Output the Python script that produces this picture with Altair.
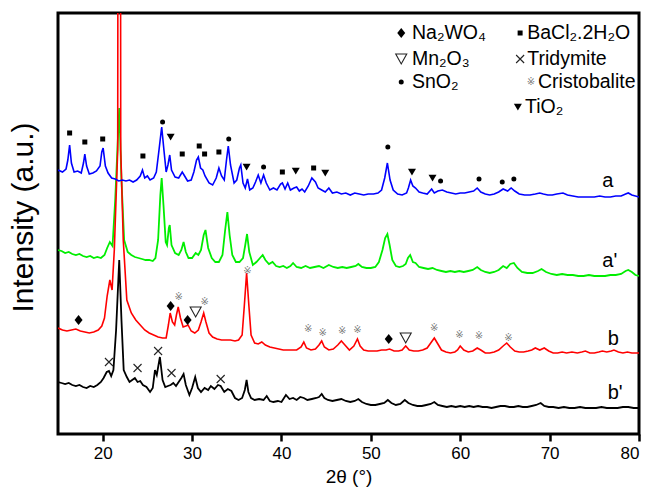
import altair as alt
import pandas as pd

# ---------------------------------------------------------------------------
# XRD patterns: 2θ (degrees) and stacked intensity (a.u., offsets included)
# ---------------------------------------------------------------------------
a_2theta = [15.0, 15.5, 15.9, 16.1, 16.3, 16.5, 16.8, 17.2, 17.6, 17.85, 18.0, 18.2, 18.5, 18.9,
            19.3, 19.7, 19.9, 20.05, 20.3, 20.6, 21.0, 21.4, 21.8, 22.2, 22.6, 23.0, 23.4, 23.8,
            24.2, 24.45, 24.7, 25.0, 25.3, 25.7, 26.0, 26.3, 26.6, 26.85, 27.1, 27.3, 27.5, 27.7,
            28.1, 28.5, 28.9, 29.1, 29.5, 29.9, 30.2, 30.5, 30.7, 30.95, 31.2, 31.45, 31.9, 32.3,
            32.7, 33.0, 33.3, 33.6, 33.85, 34.05, 34.3, 34.7, 35.0, 35.3, 35.45, 35.7, 35.95, 36.2,
            36.45, 36.8, 37.1, 37.4, 37.7, 38.0, 38.3, 38.7, 39.1, 39.5, 39.9, 40.1, 40.4, 40.7,
            41.0, 41.4, 41.7, 42.0, 42.3, 42.6, 43.0, 43.4, 43.8, 44.1, 44.5, 44.9, 45.3, 45.7,
            46.2, 46.7, 47.2, 47.7, 48.2, 48.7, 49.2, 49.7, 50.3, 50.8, 51.2, 51.55, 51.85, 52.15,
            52.5, 53.0, 53.5, 54.0, 54.2, 54.45, 54.7, 55.0, 55.4, 55.8, 56.3, 56.8, 57.1, 57.5,
            58.0, 58.5, 59.0, 59.5, 60.0, 60.5, 61.0, 61.5, 61.9, 62.3, 62.8, 63.3, 63.8, 64.3,
            64.8, 65.3, 65.7, 66.1, 66.6, 67.2, 67.8, 68.4, 68.9, 69.3, 69.8, 70.3, 70.8, 71.5,
            72.0, 72.6, 73.2, 73.8, 74.4, 75.0, 75.6, 76.2, 76.8, 77.4, 78.0, 78.5, 78.8, 79.2,
            79.6, 80.0]
a_int = [264, 262, 265, 274, 289, 271, 262, 263, 261, 271, 280, 268, 260, 261,
         263, 268, 282, 286, 268, 261, 256, 255, 253, 254, 253, 254, 252, 254,
         258, 264, 256, 258, 254, 256, 262, 284, 307, 284, 262, 269, 279, 264,
         257, 256, 262, 259, 253, 254, 262, 274, 277, 266, 264, 258, 251, 249,
         256, 266, 258, 254, 274, 288, 269, 251, 254, 266, 269, 251, 246, 255,
         244, 246, 252, 259, 251, 259, 251, 244, 246, 244, 250, 251, 245, 251,
         244, 246, 247, 243, 245, 242, 248, 256, 252, 246, 244, 242, 246, 241,
         242, 240, 241, 239, 241, 240, 239, 240, 240, 241, 244, 256, 271, 254,
         244, 240, 239, 241, 246, 254, 248, 246, 242, 241, 240, 245, 241, 243,
         244, 242, 241, 240, 241, 241, 242, 243, 246, 242, 240, 239, 240, 242,
         245, 243, 246, 243, 240, 239, 239, 240, 241, 240, 239, 239, 240, 241,
         239, 238, 237, 237, 237, 237, 238, 237, 237, 238, 238, 240, 241, 239,
         238, 237]

ap_2theta = [15.0, 15.4, 15.8, 16.2, 16.6, 17.0, 17.4, 17.8, 18.2, 18.6, 19.0, 19.4, 19.8, 20.2,
             20.5, 20.8, 21.1, 21.4, 21.85, 22.1, 22.4, 22.8, 23.2, 23.6, 24.0, 24.4, 24.8, 25.2,
             25.6, 25.9, 26.2, 26.45, 26.6, 26.8, 27.05, 27.2, 27.4, 27.5, 27.7, 28.1, 28.5, 28.8,
             29.05, 29.3, 29.6, 30.0, 30.4, 30.7, 31.0, 31.3, 31.5, 31.8, 32.2, 32.6, 33.0, 33.4,
             33.7, 33.95, 34.2, 34.5, 34.9, 35.3, 35.7, 35.95, 36.15, 36.4, 36.8, 37.2, 37.6, 37.9,
             38.2, 38.6, 39.0, 39.4, 39.8, 40.2, 40.6, 41.0, 41.3, 41.7, 42.2, 42.7, 43.2, 43.7,
             44.2, 44.7, 45.3, 45.8, 46.3, 46.8, 47.3, 47.8, 48.3, 48.6, 49.0, 49.5, 50.0, 50.5,
             50.9, 51.3, 51.6, 51.85, 52.1, 52.4, 52.8, 53.2, 53.6, 53.9, 54.15, 54.4, 54.7, 55.0,
             55.4, 55.9, 56.4, 56.9, 57.4, 57.9, 58.4, 58.9, 59.4, 59.9, 60.4, 60.9, 61.4, 61.9,
             62.3, 62.8, 63.3, 63.8, 64.3, 64.8, 65.2, 65.6, 66.0, 66.4, 66.9, 67.5, 68.1, 68.7,
             69.1, 69.6, 70.2, 70.8, 71.4, 72.0, 72.6, 73.2, 73.8, 74.4, 75.0, 75.6, 76.2, 76.8,
             77.4, 78.0, 78.5, 78.8, 79.2, 79.6, 80.0]
ap_int = [184, 183, 181, 182, 180, 179, 180, 178, 177, 178, 176, 177, 176, 179,
          186, 192, 188, 234, 326, 254, 194, 182, 179, 177, 176, 175, 174, 174,
          173, 176, 194, 239, 256, 229, 192, 189, 206, 209, 189, 181, 179, 184,
          192, 182, 176, 176, 181, 179, 184, 199, 204, 186, 176, 172, 172, 179,
          204, 222, 199, 179, 172, 172, 176, 189, 200, 182, 169, 172, 176, 179,
          174, 170, 172, 168, 167, 168, 166, 168, 171, 167, 166, 168, 166, 167,
          168, 166, 169, 167, 166, 167, 166, 167, 168, 170, 167, 166, 166, 167,
          172, 184, 196, 200, 189, 174, 168, 167, 168, 170, 176, 179, 172, 171,
          167, 166, 165, 166, 164, 163, 162, 163, 162, 163, 162, 163, 164, 167,
          164, 162, 161, 162, 164, 168, 166, 170, 171, 166, 162, 161, 161, 163,
          165, 162, 160, 159, 160, 159, 159, 158, 158, 159, 158, 158, 158, 159,
          159, 160, 163, 164, 162, 159, 158]

b_2theta = [15.0, 15.5, 16.0, 16.5, 17.0, 17.5, 18.0, 18.5, 19.0, 19.5, 19.9, 20.2, 20.5, 20.8,
            21.05, 21.3, 21.68, 21.85, 22.02, 22.3, 22.7, 23.2, 23.7, 24.2, 24.7, 25.2, 25.7, 26.2,
            26.7, 27.1, 27.35, 27.55, 27.8, 28.05, 28.25, 28.45, 28.7, 29.0, 29.3, 29.55, 29.9, 30.3,
            30.7, 31.0, 31.3, 31.55, 31.9, 32.3, 32.8, 33.3, 33.8, 34.3, 34.8, 35.2, 35.6, 35.85,
            36.1, 36.35, 36.6, 37.0, 37.4, 37.8, 38.2, 38.7, 39.2, 39.7, 40.2, 40.7, 41.2, 41.7,
            42.2, 42.5, 42.8, 43.3, 43.8, 44.2, 44.5, 44.8, 45.3, 45.8, 46.3, 46.7, 47.1, 47.6,
            48.1, 48.5, 48.8, 49.2, 49.7, 50.2, 50.7, 51.2, 51.7, 52.1, 52.6, 53.1, 53.5, 53.9,
            54.3, 54.8, 55.3, 55.8, 56.3, 56.7, 57.1, 57.5, 57.9, 58.4, 58.9, 59.4, 59.7, 60.0,
            60.4, 60.9, 61.4, 61.9, 62.3, 62.8, 63.3, 63.8, 64.3, 64.8, 65.2, 65.6, 66.1, 66.6,
            67.1, 67.6, 68.0, 68.4, 68.9, 69.4, 69.9, 70.4, 70.9, 71.4, 71.9, 72.5, 73.1, 73.6,
            74.0, 74.5, 75.0, 75.5, 75.9, 76.4, 76.9, 77.2, 77.7, 78.2, 78.7, 79.2, 79.6, 80.0]
b_int = [106, 104, 103, 104, 105, 103, 102, 101, 102, 104, 108, 116, 138, 154,
         144, 184, 284, 1800, 284, 194, 134, 121, 114, 109, 104, 101, 99, 97,
         96, 96, 109, 121, 112, 109, 119, 127, 116, 107, 108, 109, 103, 101,
         104, 112, 121, 112, 101, 97, 95, 94, 94, 94, 93, 94, 99, 129,
         161, 129, 99, 91, 90, 92, 89, 87, 86, 85, 84, 84, 84, 84,
         87, 92, 86, 84, 85, 89, 93, 87, 84, 85, 89, 93, 89, 84,
         88, 95, 88, 84, 83, 83, 83, 84, 84, 85, 83, 83, 84, 88,
         84, 83, 83, 84, 86, 91, 96, 90, 84, 82, 81, 82, 84, 88,
         84, 82, 83, 86, 84, 81, 81, 82, 84, 88, 91, 87, 83, 82,
         82, 83, 84, 86, 84, 86, 83, 81, 81, 82, 81, 82, 81, 82,
         83, 81, 81, 82, 83, 82, 83, 84, 82, 81, 82, 81, 81, 81]

bp_2theta = [15.0, 15.4, 15.8, 16.2, 16.6, 17.0, 17.4, 17.8, 18.2, 18.6, 19.0, 19.4, 19.8, 20.1,
             20.45, 20.7, 20.95, 21.2, 21.5, 21.85, 22.1, 22.35, 22.7, 23.0, 23.3, 23.6, 23.9, 24.2,
             24.5, 24.9, 25.3, 25.6, 25.85, 26.05, 26.4, 26.7, 27.0, 27.3, 27.6, 27.9, 28.2, 28.5,
             28.8, 29.05, 29.3, 29.7, 30.0, 30.35, 30.65, 31.0, 31.4, 31.8, 32.1, 32.5, 32.9, 33.2,
             33.6, 34.0, 34.4, 34.8, 35.2, 35.6, 35.9, 36.1, 36.3, 36.6, 37.0, 37.5, 38.0, 38.35,
             38.7, 39.1, 39.6, 40.0, 40.5, 40.9, 41.3, 41.7, 42.1, 42.5, 42.9, 43.4, 43.9, 44.2,
             44.5, 44.8, 45.2, 45.7, 46.2, 46.7, 47.2, 47.7, 48.2, 48.6, 49.0, 49.5, 50.0, 50.5,
             51.0, 51.5, 51.9, 52.3, 52.8, 53.3, 53.8, 54.2, 54.7, 55.2, 55.7, 56.2, 56.7, 57.1,
             57.5, 58.0, 58.5, 59.0, 59.5, 60.0, 60.5, 61.0, 61.5, 62.0, 62.5, 63.0, 63.5, 64.0,
             64.5, 65.0, 65.5, 66.0, 66.5, 67.0, 67.5, 68.0, 68.5, 69.0, 69.4, 69.9, 70.4, 71.0,
             71.6, 72.2, 72.8, 73.4, 74.0, 74.6, 75.2, 75.8, 76.4, 77.0, 77.6, 78.2, 78.8, 79.4,
             80.0]
bp_int = [52, 51, 50, 51, 49, 48, 49, 47, 46, 48, 47, 49, 52, 56,
          62, 63, 58, 64, 104, 174, 114, 64, 57, 52, 54, 56, 52, 53,
          49, 47, 42, 46, 64, 59, 77, 54, 47, 48, 49, 51, 48, 52,
          56, 60, 49, 39, 46, 57, 46, 42, 46, 44, 48, 45, 49, 48,
          42, 45, 43, 36, 34, 36, 44, 54, 42, 36, 34, 35, 34, 38,
          33, 32, 33, 32, 39, 35, 36, 34, 37, 36, 34, 35, 36, 37,
          40, 36, 34, 33, 34, 35, 33, 32, 33, 35, 32, 30, 29, 29,
          30, 31, 34, 31, 29, 30, 34, 31, 29, 28, 28, 29, 30, 32,
          29, 28, 27, 28, 27, 28, 27, 28, 27, 28, 27, 27, 26, 27,
          28, 28, 27, 27, 28, 27, 27, 28, 29, 31, 28, 27, 27, 26,
          27, 26, 26, 27, 26, 26, 26, 27, 26, 26, 26, 27, 27, 26,
          26]

# ---------------------------------------------------------------------------
# Phase assignments marked above the reflections
# ---------------------------------------------------------------------------
bacl2_2theta = [16.3, 18.0, 20.0, 24.5, 28.9, 30.8, 31.4, 33.0, 40.1, 43.6]
bacl2_int = [301, 292, 295, 278, 280, 288, 280, 282, 262, 266]
sno2_2theta = [26.7, 34.1, 38.0, 51.9, 57.8, 62.1, 64.7, 66.0]
sno2_int = [312, 295, 267, 287, 253, 255, 252, 255]
tio2_2theta = [27.6, 36.1, 41.6, 44.9, 54.6, 56.9]
tio2_int = [297, 267, 263, 261, 262, 256]
na2wo4_2theta = [17.3, 27.6, 29.5, 52.0]
na2wo4_int = [114, 128, 114, 95]
mn2o3_2theta = [30.4, 53.9]
mn2o3_int = [122, 96]
cristo_2theta = [28.5, 31.4, 36.2, 43.0, 44.6, 46.8, 48.5, 57.1, 59.9, 62.1, 65.4]
cristo_int = [137, 132, 163, 105, 101, 103, 104, 106, 99, 98, 96]
tridy_2theta = [20.7, 23.9, 26.2, 27.7, 33.2]
tridy_int = [72, 66, 83, 61, 55]

# Curve names
curve_names = ["a", "a'", "b", "b'"]
curve_name_2theta = [75.9, 75.9, 76.5, 76.5]
curve_name_int = [247, 167, 89, 35]

# Legend entries (two columns, filled row by row)
legend_phase = ["Na2WO4", "BaCl2", "Mn2O3", "Tridymite", "SnO2", "Cristobalite", "TiO2"]
legend_text = ["Na₂WO₄", "BaCl₂.2H₂O", "Mn₂O₃", "Tridymite", "SnO₂", "Cristobalite", "TiO₂"]
legend_col = [0, 1, 0, 1, 0, 1, 1]
legend_row = [0, 0, 1, 1, 2, 2, 3]

# ---------------------------------------------------------------------------
# Layout / style
# ---------------------------------------------------------------------------
FONT = "Liberation Sans"
SYM_FONT = "DejaVu Sans"
LEG_SYM_X = [53.4, 66.7]
LEG_TXT_X = [54.6, 67.5]
LEG_ROW_Y = [401, 375, 352, 327]
LEG_SHIFT = {"Cristobalite": 1.2, "TiO2": -0.25}

MARKER_STYLE = {
    "BaCl2": dict(shape="square", size=25, filled=True),
    "SnO2": dict(shape="circle", size=25, filled=True),
    "TiO2": dict(shape="M-1,-0.8L1,-0.8L0,0.9Z", size=64, filled=True),
    "Na2WO4": dict(shape="M0,-1L0.8,0L0,1L-0.8,0Z", size=100, filled=True),
    "Mn2O3": dict(shape="M-1,-0.9L1,-0.9L0,0.9Z", size=121, filled=False),
    "Tridymite": dict(shape="M-1,-1L1,1M-1,1L1,-1", size=64, filled=False),
}

x_enc = alt.X(
    "two_theta:Q",
    scale=alt.Scale(domain=[15, 80], nice=False, zero=False),
    axis=alt.Axis(values=[20, 30, 40, 50, 60, 70, 80], title="2θ (°)", format="d"),
)
y_enc = alt.Y(
    "intensity:Q",
    scale=alt.Scale(domain=[0, 421], nice=False, zero=False),
    axis=alt.Axis(title="Intensity (a.u.)", labels=False, ticks=False,
                  titleX=-20, titleY=204, titleAngle=270, titleAlign="center",
                  titleBaseline="bottom"),
)


def pattern(xs, ys, color, width):
    df = pd.DataFrame({"two_theta": xs, "intensity": ys})
    return alt.Chart(df).mark_line(color=color, strokeWidth=width, clip=True).encode(x=x_enc, y=y_enc)


def phase_points(xs, ys, phase):
    df = pd.DataFrame({"two_theta": xs, "intensity": ys})
    if phase == "Cristobalite":
        return alt.Chart(df).mark_text(
            text="※", font=SYM_FONT, fontSize=10, color="#7a7a7a", baseline="middle", align="center"
        ).encode(x=x_enc, y=y_enc)
    st = MARKER_STYLE[phase]
    if st["filled"]:
        return alt.Chart(df).mark_point(
            shape=st["shape"], size=st["size"], filled=True, color="black", opacity=1
        ).encode(x=x_enc, y=y_enc)
    return alt.Chart(df).mark_point(
        shape=st["shape"], size=st["size"], filled=False, stroke="#222222", strokeWidth=1.1, opacity=1
    ).encode(x=x_enc, y=y_enc)


marker_sets = {
    "BaCl2": (bacl2_2theta, bacl2_int),
    "SnO2": (sno2_2theta, sno2_int),
    "TiO2": (tio2_2theta, tio2_int),
    "Na2WO4": (na2wo4_2theta, na2wo4_int),
    "Mn2O3": (mn2o3_2theta, mn2o3_int),
    "Cristobalite": (cristo_2theta, cristo_int),
    "Tridymite": (tridy_2theta, tridy_int),
}

layers = [
    pattern(ap_2theta, ap_int, "#00ee00", 1.8),
    pattern(b_2theta, b_int, "#ff0000", 1.6),
    pattern(bp_2theta, bp_int, "#000000", 1.8),
    pattern(a_2theta, a_int, "#0000ff", 1.6),
]
for ph, (xs, ys) in marker_sets.items():
    layers.append(phase_points(xs, ys, ph))

# curve names
names_df = pd.DataFrame({"two_theta": curve_name_2theta, "intensity": curve_name_int, "name": curve_names})
layers.append(
    alt.Chart(names_df).mark_text(font=FONT, fontSize=20, align="left", baseline="alphabetic", color="black")
    .encode(x=x_enc, y=y_enc, text="name:N")
)

# legend
for ph, txt, c, r in zip(legend_phase, legend_text, legend_col, legend_row):
    dx = LEG_SHIFT.get(ph, 0.0)
    layers.append(phase_points([LEG_SYM_X[c] + dx], [LEG_ROW_Y[r]], ph))
    tdf = pd.DataFrame({"two_theta": [LEG_TXT_X[c] + dx], "intensity": [LEG_ROW_Y[r]], "label": [txt]})
    layers.append(
        alt.Chart(tdf).mark_text(font=FONT, fontSize=19.5, align="left", baseline="middle", color="black")
        .encode(x=x_enc, y=y_enc, text="label:N")
    )

chart = (
    alt.layer(*layers)
    .properties(
        width=581,
        height=421,
        autosize=alt.AutoSizeParams(type="none"),
        padding={"left": 58, "top": 13, "right": 14, "bottom": 59},
    )
    .configure_view(stroke="black", strokeWidth=3)
    .configure_axis(
        grid=False,
        domain=False,
        tickColor="black",
        tickWidth=2.5,
        tickSize=7,
        labelFont=FONT,
        labelFontSize=17,
        labelColor="black",
        labelPadding=4,
        titleFont=FONT,
        titleFontWeight="normal",
        titleColor="black",
    )
    .configure_axisX(titleFontSize=19, titlePadding=6)
    .configure_axisY(titleFontSize=30)
)

chart.save("out.html", embed_options={"renderer": "svg", "actions": False})
